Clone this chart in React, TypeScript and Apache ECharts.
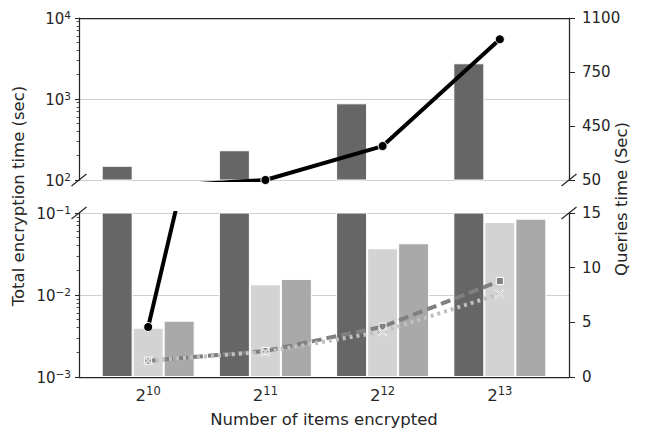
import React, { useEffect, useRef } from "react";
import * as echarts from "echarts";

// ---- data ----
const categoryIndex = [0, 1, 2, 3];
const categoryExponents = ["10", "11", "12", "13"]; // labels 2^10 ... 2^13
const encryptDark = [150, 233, 885, 2760];
const encryptLight = [0.00399, 0.0135, 0.0371, 0.0776];
const encryptMid = [0.00486, 0.0157, 0.0427, 0.0853];
const queryBlack = [4.57, 50, 270, 962];
const queryDashed = [1.49, 2.38, 4.6, 8.78];
const queryDotted = [1.5, 2.3, 4.15, 7.6];
const topRightTickValues = [50, 400, 750, 1100];
const topRightTickLabels = ["50", "450", "750", "1100"];
const bottomRightTickValues = [0, 5, 10, 15];
const minorTop = [200, 300, 400, 500, 600, 700, 800, 900, 2000, 3000, 4000, 5000, 6000, 7000, 8000, 9000];
const minorBottom = [0.002, 0.003, 0.004, 0.005, 0.006, 0.007, 0.008, 0.009, 0.02, 0.03, 0.04, 0.05, 0.06, 0.07, 0.08, 0.09];

const FONT = "DejaVu Sans";
const TXT = "#262626";
const GRIDC = "#cfcfcf";
const XMIN = -0.59;
const XMAX = 3.59;

const richY = {
  b: { fontFamily: FONT, fontSize: 15, color: TXT, lineHeight: 17, verticalAlign: "bottom" },
  s: { fontFamily: FONT, fontSize: 10.5, color: TXT, lineHeight: 11, verticalAlign: "top" },
};
const richX = {
  b: { fontFamily: FONT, fontSize: 16.5, color: TXT, lineHeight: 19, verticalAlign: "bottom" },
  s: { fontFamily: FONT, fontSize: 11.5, color: TXT, lineHeight: 12, verticalAlign: "top" },
};

const logFmt = (v: number) => {
  const e = Math.round(Math.log10(v));
  return `{b|10}{s|${e < 0 ? "\u2212" + -e : String(e)}}`;
};

const xFmt = (v: number) => {
  const i = categoryIndex.indexOf(Math.round(v));
  if (i < 0 || Math.abs(v - Math.round(v)) > 1e-6) return "";
  return `{b|2}{s|${categoryExponents[i]}}`;
};

const xMarker = "path://M1,0L5,4L9,0L10,1L6,5L10,9L9,10L5,6L1,10L0,9L4,5L0,1Z";

function pairs(vals: number[]) {
  return categoryIndex.map((x, i) => [x, vals[i]]);
}

function panelSeries(xi: number, yLeft: number, yRight: number) {
  const barCommon = { type: "bar", xAxisIndex: xi, yAxisIndex: yLeft, barWidth: 31, barGap: "0%", z: 2 };
  return [
    { ...barCommon, data: pairs(encryptDark), itemStyle: { color: "#666666", borderColor: "#ffffff", borderWidth: 1 } },
    { ...barCommon, data: pairs(encryptLight), itemStyle: { color: "#d3d3d3", borderColor: "#ffffff", borderWidth: 1 } },
    { ...barCommon, data: pairs(encryptMid), itemStyle: { color: "#a9a9a9", borderColor: "#ffffff", borderWidth: 1 } },
    {
      type: "line", xAxisIndex: xi, yAxisIndex: yRight, data: pairs(queryBlack), z: 5,
      lineStyle: { color: "#000000", width: 4 }, symbol: "circle", symbolSize: 9,
      itemStyle: { color: "#000000", borderColor: "#ffffff", borderWidth: 1 },
    },
    {
      type: "line", xAxisIndex: xi, yAxisIndex: yRight, data: pairs(queryDashed), z: 5,
      lineStyle: { color: "#808080", width: 4, type: [10, 5] }, symbol: "rect", symbolSize: 7,
      itemStyle: { color: "#808080", borderColor: "#ffffff", borderWidth: 1 },
    },
    {
      type: "line", xAxisIndex: xi, yAxisIndex: yRight, data: pairs(queryDotted), z: 5,
      lineStyle: { color: "#c0c0c0", width: 4, type: [3, 4] }, symbol: xMarker, symbolSize: 9,
      itemStyle: { color: "#c0c0c0", borderColor: "#ffffff", borderWidth: 0.8 },
    },
  ];
}

function leftLogAxis(gridIndex: number, min: number, max: number, extra: any = {}) {
  return {
    type: "log", logBase: 10, gridIndex, position: "left", min, max,
    axisLine: { show: true, onZero: false, lineStyle: { color: TXT, width: 1.25 } },
    axisTick: { show: true, length: 4, lineStyle: { color: TXT, width: 1 } },
    axisLabel: { formatter: logFmt, rich: richY, margin: 8 },
    splitLine: { show: true, lineStyle: { color: GRIDC, width: 1 } },
    ...extra,
  };
}

function minorAxis(gridIndex: number, min: number, max: number, vals: number[]) {
  return {
    type: "log", logBase: 10, gridIndex, position: "left", min, max,
    axisLine: { show: false, onZero: false },
    axisTick: { show: true, length: 2.5, customValues: vals, lineStyle: { color: TXT, width: 0.8 } },
    axisLabel: { show: false },
    splitLine: { show: false },
  };
}

const rightLabelStyle = { fontFamily: FONT, fontSize: 15, color: TXT, margin: 13 };

export default function App() {
  const ref = useRef<HTMLDivElement>(null);
  useEffect(() => {
    if (!ref.current) return;
    const chart = echarts.init(ref.current, undefined, { renderer: "svg" });
    const breakMark = (x: number, y: number) => ({
      type: "line",
      shape: { x1: x - 7.5, y1: y + 6, x2: x + 7.5, y2: y - 6 },
      style: { stroke: TXT, lineWidth: 1.25 },
      z: 100,
    });
    chart.setOption({
      animation: false,
      backgroundColor: "#ffffff",
      textStyle: { fontFamily: FONT },
      grid: [
        { left: 79, right: 78, top: 18, height: 162 },
        { left: 79, right: 78, top: 213, height: 164 },
      ],
      xAxis: [
        {
          type: "value", gridIndex: 0, min: XMIN, max: XMAX, position: "top",
          axisLine: { show: true, onZero: false, lineStyle: { color: TXT, width: 1.25 } },
          axisTick: { show: false }, axisLabel: { show: false }, splitLine: { show: false },
        },
        {
          type: "value", gridIndex: 1, min: XMIN, max: XMAX, position: "bottom",
          axisLine: { show: true, onZero: false, lineStyle: { color: TXT, width: 1.25 } },
          axisTick: { show: false },
          axisLabel: { customValues: categoryIndex, formatter: xFmt, rich: richX, margin: 8 },
          splitLine: { show: false },
          name: "Number of items encrypted", nameLocation: "middle", nameGap: 34,
          nameTextStyle: { fontFamily: FONT, fontSize: 16.5, color: TXT },
        },
      ],
      yAxis: [
        leftLogAxis(0, 100, 10000),
        {
          type: "value", gridIndex: 0, position: "right", min: 50, max: 1100,
          axisLine: { show: true, onZero: false, lineStyle: { color: TXT, width: 1.25 } },
          axisTick: { show: true, length: 6, customValues: topRightTickValues, lineStyle: { color: TXT } },
          axisLabel: {
            ...rightLabelStyle, customValues: topRightTickValues,
            formatter: (v: number) => topRightTickLabels[topRightTickValues.indexOf(v)] ?? "",
          },
          splitLine: { show: false },
        },
        minorAxis(0, 100, 10000, minorTop),
        leftLogAxis(1, 0.001, 0.1, { startValue: 0.001 }),
        {
          type: "value", gridIndex: 1, position: "right", min: 0, max: 15,
          axisLine: { show: true, onZero: false, lineStyle: { color: TXT, width: 1.25 } },
          axisTick: { show: true, length: 6, customValues: bottomRightTickValues, lineStyle: { color: TXT } },
          axisLabel: { ...rightLabelStyle, customValues: bottomRightTickValues },
          splitLine: { show: false },
        },
        minorAxis(1, 0.001, 0.1, minorBottom),
      ],
      series: [...panelSeries(0, 0, 1), ...panelSeries(1, 3, 4)],
      graphic: [
        breakMark(79, 180),
        breakMark(569, 180),
        breakMark(79, 213),
        breakMark(569, 213),
        {
          type: "text", x: 18, y: 196, rotation: Math.PI / 2,
          style: { text: "Total encryption time (sec)", fill: TXT, font: `16.5px "${FONT}"`, align: "center", verticalAlign: "middle" },
        },
        {
          type: "text", x: 621, y: 199, rotation: Math.PI / 2,
          style: { text: "Queries time (Sec)", fill: TXT, font: `16.5px "${FONT}"`, align: "center", verticalAlign: "middle" },
        },
      ],
    });
    return () => chart.dispose();
  }, []);
  return <div ref={ref} style={{ position: "absolute", left: 0, top: 0, width: 647, height: 438 }} />;
}
